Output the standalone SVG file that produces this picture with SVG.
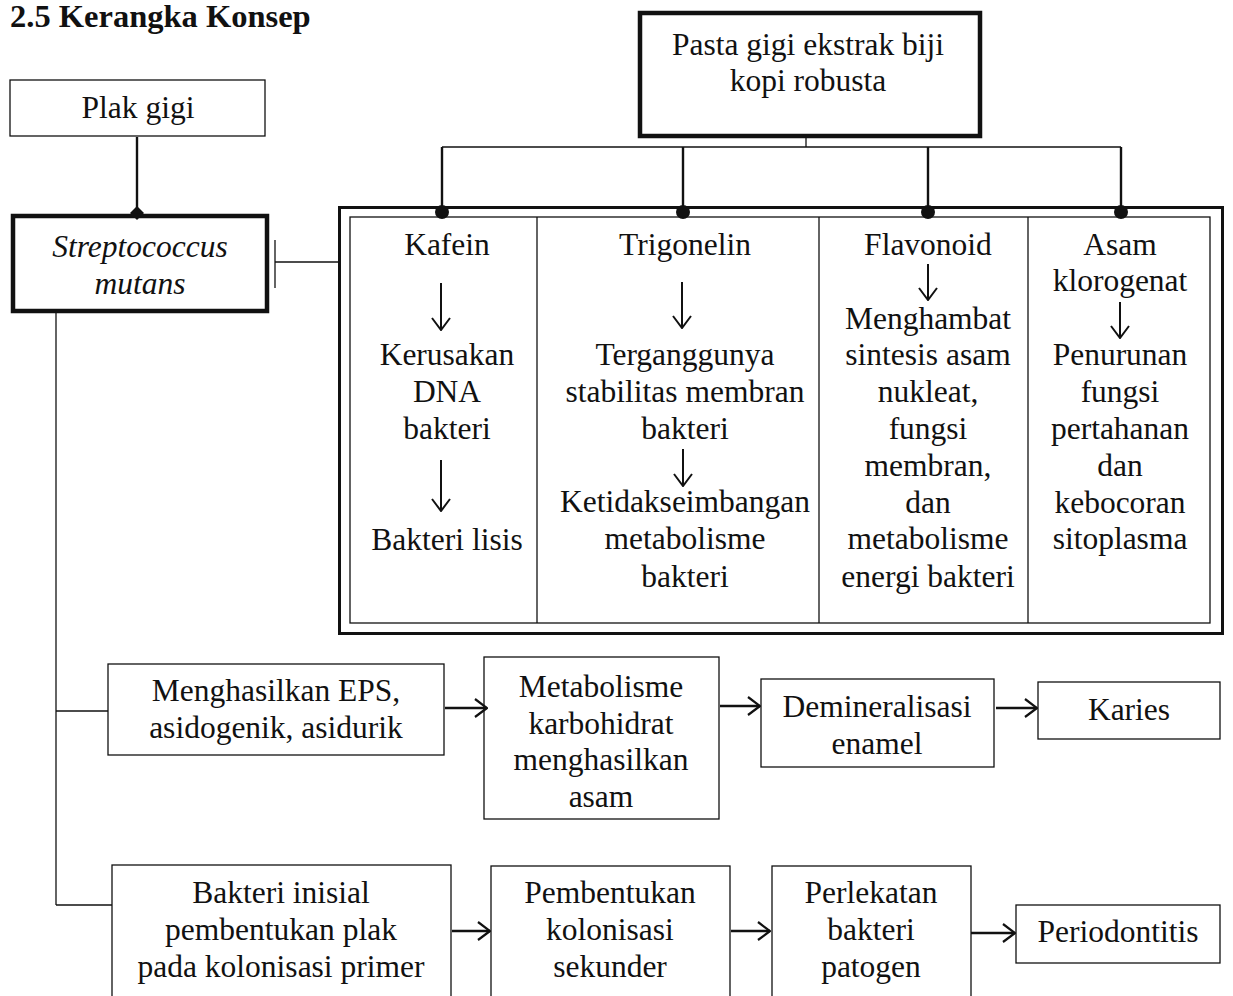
<svg xmlns="http://www.w3.org/2000/svg" width="1233" height="996" viewBox="0 0 1233 996">
<style>
text{font-family:"Liberation Serif","Times New Roman",serif;font-size:31.5px;fill:#111;text-anchor:middle}
.title{font-weight:bold;text-anchor:start;font-size:32.5px}
.it{font-style:italic}
.box{fill:none;stroke:#111;stroke-width:1.3}
.thick{fill:none;stroke:#111;stroke-width:4.5}
.ln{fill:none;stroke:#111;stroke-width:1.3}
.ln2{fill:none;stroke:#111;stroke-width:2.4}
.ar{fill:none;stroke:#111;stroke-width:2.6}
.dn{fill:none;stroke:#111;stroke-width:2}
</style>
<defs>
<marker id="oh" viewBox="0 0 14 20" refX="13" refY="10" markerWidth="14" markerHeight="20" markerUnits="userSpaceOnUse" orient="auto">
<path d="M1,1 L13,10 L1,19" fill="none" stroke="#111" stroke-width="2.2"/>
</marker>
<marker id="dh" viewBox="0 0 20 14" refX="10" refY="13" markerWidth="20" markerHeight="14" markerUnits="userSpaceOnUse" orient="0">
<path d="M1,1 L10,13 L19,1" fill="none" stroke="#111" stroke-width="2"/>
</marker>
</defs>
<rect width="1233" height="996" fill="#fff"/>
<text class="title" x="10" y="27">2.5 Kerangka Konsep</text>

<g id="connectors">
<line class="ln2" x1="137" y1="137" x2="137" y2="214"/>
<path d="M137,206 L144,213 L137,220 L130,213 Z" fill="#111"/>
<line class="ln" x1="275" y1="240" x2="275" y2="288"/>
<line class="ln" x1="275" y1="262" x2="339" y2="262"/>
<line class="ln" x1="806" y1="137" x2="806" y2="147"/>
<line class="ln" x1="442" y1="147" x2="1121" y2="147"/>
<line class="ln2" x1="442" y1="147" x2="442" y2="212"/>
<line class="ln2" x1="683" y1="147" x2="683" y2="212"/>
<line class="ln2" x1="928" y1="147" x2="928" y2="212"/>
<line class="ln2" x1="1121" y1="147" x2="1121" y2="212"/>
<circle cx="442" cy="212" r="7" fill="#111"/>
<circle cx="683" cy="212" r="7" fill="#111"/>
<circle cx="928" cy="212" r="7" fill="#111"/>
<circle cx="1121" cy="212" r="7" fill="#111"/>
<line class="ln" x1="56" y1="312" x2="56" y2="905"/>
<line class="ln" x1="56" y1="711" x2="108" y2="711"/>
<line class="ln" x1="56" y1="905" x2="112" y2="905"/>
<line class="ar" x1="445" y1="708" x2="487" y2="708" marker-end="url(#oh)"/>
<line class="ar" x1="720" y1="706" x2="760" y2="706" marker-end="url(#oh)"/>
<line class="ar" x1="996" y1="708" x2="1037" y2="708" marker-end="url(#oh)"/>
<line class="ar" x1="452" y1="931" x2="490" y2="931" marker-end="url(#oh)"/>
<line class="ar" x1="731" y1="931" x2="770" y2="931" marker-end="url(#oh)"/>
<line class="ar" x1="971" y1="933" x2="1015" y2="933" marker-end="url(#oh)"/>
<line class="dn" x1="441" y1="283" x2="441" y2="330" marker-end="url(#dh)"/>
<line class="dn" x1="441" y1="460" x2="441" y2="511" marker-end="url(#dh)"/>
<line class="dn" x1="682" y1="282" x2="682" y2="328" marker-end="url(#dh)"/>
<line class="dn" x1="683" y1="449" x2="683" y2="486" marker-end="url(#dh)"/>
<line class="dn" x1="928" y1="264" x2="928" y2="300" marker-end="url(#dh)"/>
<line class="dn" x1="1120" y1="302" x2="1120" y2="338" marker-end="url(#dh)"/>
</g>

<g id="plak-gigi">
<rect class="box" x="10" y="80" width="255" height="56"/>
<text x="138" y="118">Plak gigi</text>
</g>

<g id="streptococcus">
<rect class="thick" x="13" y="216" width="254" height="95"/>
<text class="it" x="140" y="257">Streptococcus</text>
<text class="it" x="140" y="294">mutans</text>
</g>

<g id="pasta-gigi">
<rect class="thick" x="640" y="13" width="340" height="123"/>
<text x="808" y="55">Pasta gigi ekstrak biji</text>
<text x="808" y="91">kopi robusta</text>
</g>

<g id="kandungan-frame">
<rect fill="none" stroke="#111" stroke-width="3" x="339.5" y="207.5" width="883" height="426"/>
<rect class="box" x="350" y="217" width="860" height="406"/>
<line class="ln" x1="537" y1="217" x2="537" y2="623"/>
<line class="ln" x1="819" y1="217" x2="819" y2="623"/>
<line class="ln" x1="1028" y1="217" x2="1028" y2="623"/>
</g>

<g id="kafein">
<text x="447" y="255">Kafein</text>
<text x="447" y="365">Kerusakan</text>
<text x="447" y="402">DNA</text>
<text x="447" y="439">bakteri</text>
<text x="447" y="550">Bakteri lisis</text>
</g>

<g id="trigonelin">
<text x="685" y="255">Trigonelin</text>
<text x="685" y="365">Terganggunya</text>
<text x="685" y="402">stabilitas membran</text>
<text x="685" y="439">bakteri</text>
<text x="685" y="512">Ketidakseimbangan</text>
<text x="685" y="549">metabolisme</text>
<text x="685" y="587">bakteri</text>
</g>

<g id="flavonoid">
<text x="928" y="255">Flavonoid</text>
<text x="928" y="329">Menghambat</text>
<text x="928" y="365">sintesis asam</text>
<text x="928" y="402">nukleat,</text>
<text x="928" y="439">fungsi</text>
<text x="928" y="476">membran,</text>
<text x="928" y="513">dan</text>
<text x="928" y="549">metabolisme</text>
<text x="928" y="587">energi bakteri</text>
</g>

<g id="asam-klorogenat">
<text x="1120" y="255">Asam</text>
<text x="1120" y="291">klorogenat</text>
<text x="1120" y="365">Penurunan</text>
<text x="1120" y="402">fungsi</text>
<text x="1120" y="439">pertahanan</text>
<text x="1120" y="476">dan</text>
<text x="1120" y="513">kebocoran</text>
<text x="1120" y="549">sitoplasma</text>
</g>

<g id="menghasilkan-eps">
<rect class="box" x="108" y="664" width="336" height="91"/>
<text x="276" y="701">Menghasilkan EPS,</text>
<text x="276" y="738">asidogenik, asidurik</text>
</g>

<g id="metabolisme-karbohidrat">
<rect class="box" x="484" y="657" width="235" height="162"/>
<text x="601" y="697">Metabolisme</text>
<text x="601" y="734">karbohidrat</text>
<text x="601" y="770">menghasilkan</text>
<text x="601" y="807">asam</text>
</g>

<g id="demineralisasi">
<rect class="box" x="761" y="679" width="233" height="88"/>
<text x="877" y="717">Demineralisasi</text>
<text x="877" y="754">enamel</text>
</g>

<g id="karies">
<rect class="box" x="1038" y="682" width="182" height="57"/>
<text x="1129" y="720">Karies</text>
</g>

<g id="bakteri-inisial">
<rect class="box" x="112" y="865" width="339" height="140"/>
<text x="281" y="903">Bakteri inisial</text>
<text x="281" y="940">pembentukan plak</text>
<text x="281" y="977">pada kolonisasi primer</text>
</g>

<g id="pembentukan-kolonisasi">
<rect class="box" x="491" y="866" width="239" height="140"/>
<text x="610" y="903">Pembentukan</text>
<text x="610" y="940">kolonisasi</text>
<text x="610" y="977">sekunder</text>
</g>

<g id="perlekatan">
<rect class="box" x="772" y="866" width="199" height="140"/>
<text x="871" y="903">Perlekatan</text>
<text x="871" y="940">bakteri</text>
<text x="871" y="977">patogen</text>
</g>

<g id="periodontitis">
<rect class="box" x="1016" y="905" width="204" height="58"/>
<text x="1118" y="942">Periodontitis</text>
</g>
</svg>
